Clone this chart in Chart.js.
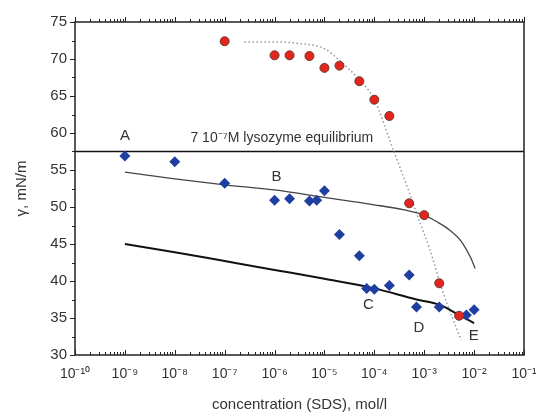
<!DOCTYPE html>
<html>
<head>
<meta charset="utf-8">
<script src="https://cdn.jsdelivr.net/npm/chart.js@4"></script>
<style>
  body { margin: 0; background: #fff; }
  #wrap { width: 536px; height: 416px; }
</style>
</head>
<body>
<div id="wrap"><canvas id="surfChart" width="536" height="416"></canvas></div>
<script>
// SDS + lysozyme mixtures (blue) and pure SDS (red)
const redX = [1e-7, 1e-6, 2e-6, 5e-6, 1e-5, 2e-5, 5e-5, 1e-4, 2e-4, 5e-4, 1e-3, 2e-3, 5e-3];
const redY = [72.4, 70.5, 70.5, 70.4, 68.8, 69.1, 67.0, 64.5, 62.3, 50.5, 48.9, 39.7, 35.3];

const blueX = [1e-9, 1e-8, 1e-7, 1e-6, 2e-6, 5e-6, 7e-6, 1e-5, 2e-5, 5e-5, 7e-5, 1e-4, 2e-4, 5e-4, 7e-4, 2e-3, 7e-3, 1e-2];
const blueY = [56.9, 56.1, 53.2, 50.9, 51.1, 50.8, 50.9, 52.2, 46.3, 43.4, 39.0, 38.9, 39.4, 40.8, 36.5, 36.5, 35.4, 36.1];

// fitted curves
const upperX = [1e-9, 1e-8, 1e-7, 1e-6, 1e-5, 1e-4, 4e-4, 1e-3, 1.8e-3, 3.2e-3, 5.6e-3, 8.3e-3, 1.05e-2];
const upperY = [54.7, 53.8, 53.0, 52.3, 51.3, 50.3, 49.6, 48.9, 48.0, 46.9, 45.3, 43.3, 41.7];

const lowerX = [1e-9, 1e-8, 1e-7, 1e-6, 1e-5, 1e-4, 7e-4, 2e-3, 5e-3, 1e-2];
const lowerY = [45.0, 43.9, 42.7, 41.5, 40.3, 39.0, 37.5, 36.8, 35.4, 34.3];

const dotX = [2.5e-7, 1e-6, 3e-6, 1e-5, 2e-5, 5e-5, 1e-4, 2.4e-4, 5e-4, 7e-4, 1.3e-3, 2.4e-3, 5.5e-3];
const dotY = [72.3, 72.3, 72.1, 71.4, 69.8, 67.2, 64.5, 57.7, 52.0, 49.2, 44.2, 38.4, 32.0];

const eqX = [1e-10, 1e-1];
const eqY = [57.5, 57.5];

// annotations
const noteText = ['A', 'B', 'C', 'D', 'E', '7 10\u207B\u2077M lysozyme equilibrium'];
const noteX = [1e-9, 1.1e-6, 7.6e-5, 7.8e-4, 9.8e-3, 1.4e-6];
const noteY = [59.6, 54.1, 36.8, 33.7, 32.6, 59.3];

const xMajor = [1e-10, 1e-9, 1e-8, 1e-7, 1e-6, 1e-5, 1e-4, 1e-3, 1e-2, 1e-1];

const zip = (xs, ys) => xs.map((x, i) => ({x: x, y: ys[i]}));
const supMap = {'-': '\u207B', '0': '\u2070', '1': '\u00B9', '2': '\u00B2', '3': '\u00B3',
  '4': '\u2074', '5': '\u2075', '6': '\u2076', '7': '\u2077', '8': '\u2078', '9': '\u2079'};
const sup = s => String(s).split('').map(c => supMap[c] || c).join('');

const textColor = '#333';
const fontFam = '"Liberation Sans", Arial, sans-serif';

const framePlugin = {
  id: 'frame',
  afterDraw(chart) {
    const {ctx, chartArea: a, scales} = chart;
    const xs = scales.x, ys = scales.y;
    ctx.save();
    ctx.strokeStyle = '#222';
    ctx.lineWidth = 1.5;
    ctx.strokeRect(a.left, a.top, a.right - a.left, a.bottom - a.top);
    ctx.lineWidth = 1;
    ctx.beginPath();
    // left ticks (outward)
    for (let v = 30; v <= 75; v += 2.5) {
      const y = Math.round(ys.getPixelForValue(v)) + 0.5;
      const len = v % 5 === 0 ? 5 : 3;
      ctx.moveTo(a.left - len, y);
      ctx.lineTo(a.left, y);
    }
    // bottom (inward) and top (outward) ticks
    for (let k = -10; k <= -1; k++) {
      for (let m = 1; m <= 9; m++) {
        if (k === -1 && m > 1) break;
        const x = Math.round(xs.getPixelForValue(m * Math.pow(10, k))) + 0.5;
        const len = m === 1 ? 5 : 3;
        ctx.moveTo(x, a.bottom);
        ctx.lineTo(x, a.bottom - len);
        ctx.moveTo(x, a.top);
        ctx.lineTo(x, a.top - len);
      }
    }
    ctx.stroke();
    // notes
    ctx.fillStyle = textColor;
    ctx.textAlign = 'center';
    ctx.textBaseline = 'middle';
    noteText.forEach((t, i) => {
      ctx.font = (t.length === 1 ? '15px ' : '14px ') + fontFam;
      ctx.fillText(t, xs.getPixelForValue(noteX[i]), ys.getPixelForValue(noteY[i]));
    });
    ctx.restore();
  }
};

new Chart(document.getElementById('surfChart'), {
  type: 'scatter',
  data: {
    datasets: [
      {
        label: 'SDS',
        data: zip(redX, redY),
        pointStyle: 'circle',
        pointRadius: 4.5,
        backgroundColor: '#e5241d',
        borderColor: '#6b3a2c',
        borderWidth: 1,
        order: 0
      },
      {
        label: 'SDS + lysozyme',
        data: zip(blueX, blueY),
        pointStyle: 'rectRot',
        pointRadius: 5.5,
        backgroundColor: '#1f3fa0',
        borderColor: '#1f3fa0',
        borderWidth: 0,
        order: 1
      },
      {
        label: 'fit B',
        data: zip(upperX, upperY),
        showLine: true,
        pointRadius: 0,
        borderColor: '#444',
        borderWidth: 1.3,
        cubicInterpolationMode: 'monotone',
        order: 2
      },
      {
        label: 'fit C',
        data: zip(lowerX, lowerY),
        showLine: true,
        pointRadius: 0,
        borderColor: '#111',
        borderWidth: 2,
        cubicInterpolationMode: 'monotone',
        order: 3
      },
      {
        label: 'SDS fit',
        data: zip(dotX, dotY),
        showLine: true,
        pointRadius: 0,
        borderColor: '#8a9aaa',
        borderWidth: 1.5,
        borderDash: [1.5, 2.5],
        cubicInterpolationMode: 'monotone',
        order: 4
      },
      {
        label: 'equilibrium',
        data: zip(eqX, eqY),
        showLine: true,
        pointRadius: 0,
        borderColor: '#111',
        borderWidth: 1.5,
        order: 5
      }
    ]
  },
  options: {
    responsive: false,
    animation: false,
    layout: { padding: { top: 22, right: 0, left: 0, bottom: 0 } },
    plugins: {
      legend: { display: false },
      tooltip: { enabled: false }
    },
    scales: {
      x: {
        type: 'logarithmic',
        min: 1e-10,
        max: 1e-1,
        afterBuildTicks: scale => { scale.ticks = xMajor.map(v => ({value: v})); },
        afterFit: scale => { scale.height = 61; scale.paddingRight = 12; },
        grid: { display: false, drawTicks: false },
        border: { display: false },
        ticks: {
          color: textColor,
          padding: 11,
          maxRotation: 0,
          autoSkip: false,
          font: { family: fontFam, size: 14 },
          callback: v => '10' + sup(Math.round(Math.log10(v)))
        },
        title: {
          display: true,
          text: 'concentration (SDS), mol/l',
          color: textColor,
          font: { family: fontFam, size: 15 },
          padding: { top: 0, bottom: 2 }
        }
      },
      y: {
        min: 30,
        max: 75,
        afterFit: scale => { scale.width = 75; },
        grid: { display: false, drawTicks: false },
        border: { display: false },
        ticks: {
          stepSize: 5,
          color: textColor,
          padding: 8,
          font: { family: fontFam, size: 15 }
        },
        title: {
          display: true,
          text: '\u03B3, mN/m',
          color: textColor,
          font: { family: fontFam, size: 15 },
          padding: { top: 13, bottom: 0 }
        }
      }
    }
  },
  plugins: [framePlugin]
});
</script>
</body>
</html>
